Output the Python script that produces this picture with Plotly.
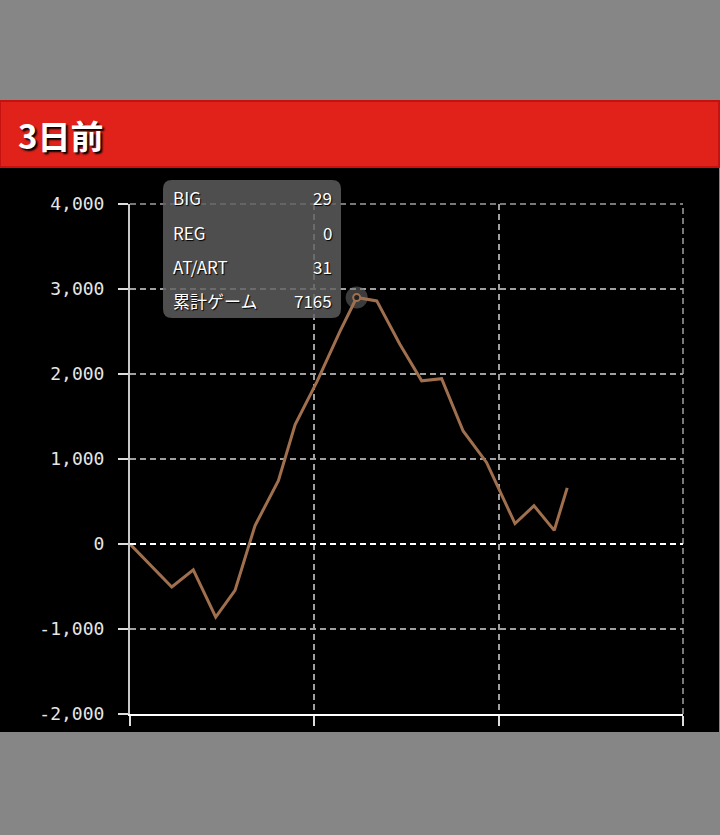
import plotly.graph_objects as go

# ---- data ----
games = [0, 1320, 2000, 2710, 3320, 3950, 4690, 5220, 5910, 6640, 7165, 7800, 8530,
         9220, 9850, 10530, 11270, 12170, 12770, 13410, 13820]
diff = [0, -505, -305, -860, -545, 215, 745, 1405, 1910, 2505, 2900, 2860, 2350,
        1920, 1945, 1330, 960, 240, 450, 160, 660]
y_ticks = [-2000, -1000, 0, 1000, 2000, 3000, 4000]
y_ticktext = ["-2,000", "-1,000", "0", "1,000", "2,000", "3,000", "4,000"]
x_max = 17480
tip_labels = ["BIG", "REG", "AT/ART", "累計ゲーム"]
tip_values = ["29", "0", "31", "7165"]
hover_index = 10
title_text = "3日前"

W, H = 720, 835
L, R, T, B = 130, 683, 204, 714
GRID = "#a0a0a0"
DASH = "6px,4px"


def px(x):
    return (x - L) / (R - L)


def py(y):
    return (B - y) / (B - T)


fig = go.Figure()

# hover halo
fig.add_trace(go.Scatter(x=[games[hover_index]], y=[diff[hover_index]], mode="markers",
                         marker=dict(size=22, color="rgba(110,110,110,0.55)"),
                         hoverinfo="skip", showlegend=False))
# main line
fig.add_trace(go.Scatter(x=games, y=diff, mode="lines",
                         line=dict(color="#a06f4e", width=3),
                         hoverinfo="skip", showlegend=False))
# hover dot
fig.add_trace(go.Scatter(x=[games[hover_index]], y=[diff[hover_index]], mode="markers",
                         marker=dict(size=7, color="#222", line=dict(color="#a06f4e", width=2)),
                         hoverinfo="skip", showlegend=False))

shapes = []
# black chart panel
shapes.append(dict(type="rect", xref="paper", yref="paper", layer="below",
                   x0=px(0), x1=px(719), y0=py(732), y1=py(167),
                   fillcolor="#000", line=dict(width=0)))
# red header
shapes.append(dict(type="rect", xref="paper", yref="paper", layer="below",
                   x0=px(0), x1=px(719), y0=py(167), y1=py(101),
                   fillcolor="#e0221a", line=dict(color="#c4120e", width=2)))
# edge grid lines (top and right) that plotly skips
shapes.append(dict(type="line", xref="paper", yref="paper", x0=0, x1=1, y0=1, y1=1,
                   line=dict(color=GRID, width=1.5, dash=DASH), layer="above"))
shapes.append(dict(type="line", xref="paper", yref="paper", x0=1, x1=1, y0=0, y1=1,
                   line=dict(color=GRID, width=1.5, dash=DASH), layer="above"))
# zero line dashed white
shapes.append(dict(type="line", xref="paper", yref="y", x0=0, x1=1, y0=0, y1=0,
                   line=dict(color="#ffffff", width=2, dash=DASH), layer="above"))

# tooltip rounded box
bx0, bx1, by0, by1, r = 163, 341, 180, 318, 9
path = (f"M {px(bx0+r)},{py(by0)} L {px(bx1-r)},{py(by0)} "
        f"Q {px(bx1)},{py(by0)} {px(bx1)},{py(by0+r)} "
        f"L {px(bx1)},{py(by1-r)} Q {px(bx1)},{py(by1)} {px(bx1-r)},{py(by1)} "
        f"L {px(bx0+r)},{py(by1)} Q {px(bx0)},{py(by1)} {px(bx0)},{py(by1-r)} "
        f"L {px(bx0)},{py(by0+r)} Q {px(bx0)},{py(by0)} {px(bx0+r)},{py(by0)} Z")
shapes.append(dict(type="path", xref="paper", yref="paper", path=path, layer="above",
                   fillcolor="rgba(95,95,95,0.82)", line=dict(width=0)))

annotations = []
annotations.append(dict(text=f"<b>{title_text}</b>", xref="paper", yref="paper",
                        x=px(16), y=py(135), xanchor="left", yanchor="middle",
                        showarrow=False,
                        font=dict(family="Noto Sans CJK JP", size=33, color="#fff",
                                  shadow="2px 2px 2px #000")))
row_y = [197, 232, 266, 300]
for lab, val, ry in zip(tip_labels, tip_values, row_y):
    annotations.append(dict(text=lab, xref="paper", yref="paper", x=px(171), y=py(ry),
                            xanchor="left", yanchor="middle", showarrow=False,
                            font=dict(family="Noto Sans CJK JP", size=17, color="#fff",
                                      shadow="1px 1px 1px #000")))
    annotations.append(dict(text=val, xref="paper", yref="paper", x=px(334), y=py(ry),
                            xanchor="right", yanchor="middle", showarrow=False,
                            font=dict(family="Noto Sans CJK JP", size=17, color="#fff",
                                      shadow="1px 1px 1px #000")))

fig.update_layout(
    width=W, height=H,
    margin=dict(l=L, r=W - R, t=T, b=H - B, pad=0),
    paper_bgcolor="#868686", plot_bgcolor="#000",
    shapes=shapes, annotations=annotations,
    showlegend=False,
)
fig.update_xaxes(range=[0, x_max], tickvals=[0, x_max / 3, 2 * x_max / 3, x_max],
                 showticklabels=False, ticks="outside", ticklen=10, tickwidth=2,
                 tickcolor="#ddd", showline=True, linecolor="#fff", linewidth=2,
                 showgrid=True, gridcolor=GRID, gridwidth=1.5, griddash=DASH,
                 zeroline=False, fixedrange=True)
fig.update_yaxes(range=[-2000, 4000], tickvals=y_ticks, ticktext=y_ticktext,
                 ticks="outside", ticklen=10, tickwidth=2, tickcolor="#ddd",
                 ticklabelstandoff=10,
                 tickfont=dict(family="DejaVu Sans Mono", size=18, color="#e6e6e6"),
                 showline=True, linecolor="#c8c8c8", linewidth=2,
                 showgrid=True, gridcolor=GRID, gridwidth=1.5, griddash=DASH,
                 zeroline=False, fixedrange=True)

fig.write_html("out.html", config=dict(displayModeBar=False),
               post_script="document.body.style.margin='0';"
                           "document.body.style.background='#868686';")
